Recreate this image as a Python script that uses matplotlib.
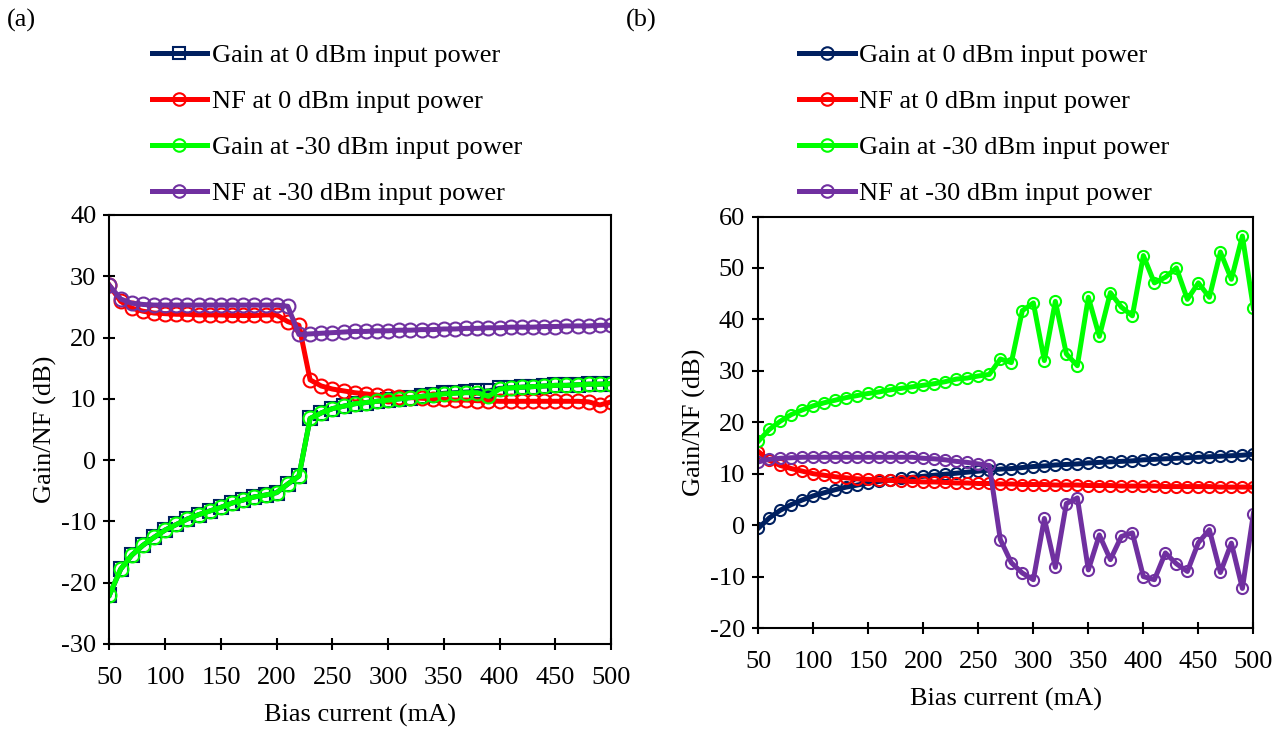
import matplotlib
matplotlib.use("Agg")
import matplotlib.pyplot as plt
from matplotlib.lines import Line2D

plt.rcParams['font.family'] = ['Liberation Serif', 'DejaVu Serif']
plt.rcParams['font.size'] = 19
plt.rcParams['axes.unicode_minus'] = False

bias = list(range(50, 510, 10))

labels = ["Gain at 0 dBm input power", "NF at 0 dBm input power",
          "Gain at -30 dBm input power", "NF at -30 dBm input power"]

# ---- panel (a) ----
a_gain0 = [-22.0, -17.8, -15.5, -13.9, -12.6, -11.4, -10.5, -9.6, -8.9, -8.3,
           -7.7, -7.0, -6.5, -6.0, -5.7, -5.3, -3.9, -2.6, 6.8, 7.7,
           8.4, 8.8, 9.2, 9.4, 9.6, 9.8, 10.0, 10.2, 10.4, 10.6,
           10.9, 11.0, 11.1, 11.2, 11.3, 11.7, 11.8, 11.9, 12.0, 12.1,
           12.2, 12.2, 12.3, 12.4, 12.4, 12.5]
a_nf0 = [28.5, 25.9, 24.8, 24.3, 24.0, 23.9, 23.8, 23.8, 23.7, 23.7,
         23.7, 23.6, 23.6, 23.6, 23.7, 23.7, 22.6, 22.0, 13.1, 12.1,
         11.6, 11.3, 11.0, 10.8, 10.6, 10.4, 10.3, 10.2, 10.1, 10.0,
         9.9, 9.8, 9.8, 9.7, 9.7, 9.6, 9.6, 9.6, 9.6, 9.6,
         9.6, 9.6, 9.6, 9.5, 9.0, 9.5]
a_gain30 = [-22.0, -17.8, -15.5, -13.9, -12.6, -11.4, -10.5, -9.6, -8.9, -8.3,
            -7.7, -7.0, -6.5, -6.0, -5.7, -5.3, -3.9, -2.6, 6.8, 7.7,
            8.4, 8.8, 9.2, 9.4, 9.6, 9.8, 10.0, 10.2, 10.4, 10.6,
            10.8, 10.9, 11.0, 11.0, 10.4, 11.6, 11.8, 11.9, 12.0, 12.1,
            12.2, 12.2, 12.3, 12.4, 12.4, 12.5]
a_nf30 = [28.5, 26.3, 25.6, 25.4, 25.3, 25.3, 25.3, 25.3, 25.3, 25.3,
          25.3, 25.3, 25.3, 25.3, 25.3, 25.3, 25.1, 20.5, 20.6, 20.7,
          20.8, 20.9, 21.0, 21.0, 21.1, 21.1, 21.2, 21.2, 21.3, 21.3,
          21.4, 21.4, 21.5, 21.5, 21.6, 21.6, 21.7, 21.7, 21.7, 21.8,
          21.8, 21.9, 21.9, 21.9, 22.0, 22.0]

# ---- panel (b) ----
b_gain0 = [-0.6, 1.4, 2.9, 4.0, 4.9, 5.7, 6.3, 6.9, 7.4, 7.8,
           8.2, 8.5, 8.8, 9.1, 9.3, 9.5, 9.7, 9.9, 10.1, 10.3,
           10.5, 10.7, 10.9, 11.0, 11.2, 11.4, 11.5, 11.7, 11.8, 11.9,
           12.1, 12.2, 12.3, 12.4, 12.5, 12.7, 12.8, 12.9, 13.0, 13.1,
           13.2, 13.3, 13.4, 13.5, 13.6, 13.8]
b_nf0 = [14.3, 12.6, 11.6, 11.0, 10.5, 10.0, 9.7, 9.4, 9.2, 9.0,
         8.9, 8.8, 8.7, 8.6, 8.5, 8.4, 8.4, 8.3, 8.2, 8.2,
         8.1, 8.1, 8.0, 8.0, 7.9, 7.9, 7.9, 7.8, 7.8, 7.8,
         7.7, 7.7, 7.7, 7.6, 7.6, 7.6, 7.6, 7.5, 7.5, 7.5,
         7.5, 7.5, 7.4, 7.4, 7.4, 7.4]
b_gain30 = [16.3, 18.6, 20.2, 21.5, 22.4, 23.2, 23.8, 24.3, 24.8, 25.2,
            25.6, 25.9, 26.3, 26.6, 26.9, 27.2, 27.5, 27.9, 28.4, 28.6,
            29.0, 29.3, 32.3, 31.6, 41.7, 43.2, 32.0, 43.5, 33.3, 31.0,
            44.3, 36.7, 45.2, 42.4, 40.7, 52.4, 47.1, 48.2, 50.0, 43.9,
            47.1, 44.3, 53.1, 47.8, 56.2, 42.2]
b_nf30 = [12.3, 12.8, 13.0, 13.1, 13.2, 13.2, 13.2, 13.2, 13.2, 13.2,
          13.2, 13.2, 13.2, 13.2, 13.2, 13.0, 12.9, 12.7, 12.4, 12.2,
          11.9, 11.6, -2.8, -7.3, -9.3, -10.6, 1.3, -8.2, 4.2, 5.3,
          -8.7, -1.9, -6.7, -2.2, -1.5, -10.0, -10.6, -5.4, -7.5, -9.0,
          -3.4, -0.9, -9.2, -3.5, -12.3, 2.2]

navy = '#002060'
red = '#FF0000'
green = '#00FF00'
purple = '#7030A0'

fig = plt.figure(figsize=(12.85, 7.29), dpi=100)
ax1 = fig.add_axes([0.0852, 0.1166, 0.3903, 0.5885])
ax2 = fig.add_axes([0.5901, 0.1385, 0.3853, 0.5645])

lw = 3.6
mew = 1.5
def plot_series(ax, y, color, marker, ms):
    ax.plot(bias, y, color=color, lw=lw, marker=marker, ms=ms,
            mfc='none', mec=color, mew=mew)

plot_series(ax1, a_gain0, navy, 's', 10)
plot_series(ax1, a_nf0, red, 'o', 10)
plot_series(ax1, a_gain30, green, 'o', 10)
plot_series(ax1, a_nf30, purple, 'o', 10)

plot_series(ax2, b_gain0, navy, 'o', 8)
plot_series(ax2, b_nf0, red, 'o', 8)
plot_series(ax2, b_gain30, green, 'o', 8)
plot_series(ax2, b_nf30, purple, 'o', 8)

for ax, ylim, yt in [(ax1, (-30, 40), range(-30, 41, 10)),
                     (ax2, (-20, 60), range(-20, 61, 10))]:
    ax.set_xlim(50, 500)
    ax.set_ylim(*ylim)
    ax.set_xticks(range(50, 501, 50))
    ax.set_yticks(list(yt))
    ax.tick_params(direction='inout', length=9, width=1.5, labelsize=19)
    ax.tick_params(axis='y', pad=5)
    ax.tick_params(axis='x', pad=12)
    for s in ax.spines.values():
        s.set_linewidth(1.5)
    ax.set_xlabel('Bias current (mA)', fontsize=19, labelpad=11)
    ax.set_ylabel('Gain/NF (dB)', fontsize=19, labelpad=3)

def handles(marker0):
    return [Line2D([], [], color=navy, lw=lw, marker=marker0, ms=9, mfc='none', mec=navy, mew=mew),
            Line2D([], [], color=red, lw=lw, marker='o', ms=9, mfc='none', mec=red, mew=mew),
            Line2D([], [], color=green, lw=lw, marker='o', ms=9, mfc='none', mec=green, mew=mew),
            Line2D([], [], color=purple, lw=lw, marker='o', ms=9, mfc='none', mec=purple, mew=mew)]

leg_kw = dict(loc='upper left', frameon=False, fontsize=19, handlelength=2.1,
              handletextpad=0.18, labelspacing=0.85, borderpad=0, borderaxespad=0)
fig.legend(handles('s'), labels, bbox_to_anchor=(0.118, 0.940), **leg_kw)
fig.legend(handles('o'), labels, bbox_to_anchor=(0.622, 0.940), **leg_kw)

fig.text(0.005, 0.972, '(a)', fontsize=19, va='center', ha='left')
fig.text(0.487, 0.972, '(b)', fontsize=19, va='center', ha='left')

fig.savefig('out.png', dpi=100)
